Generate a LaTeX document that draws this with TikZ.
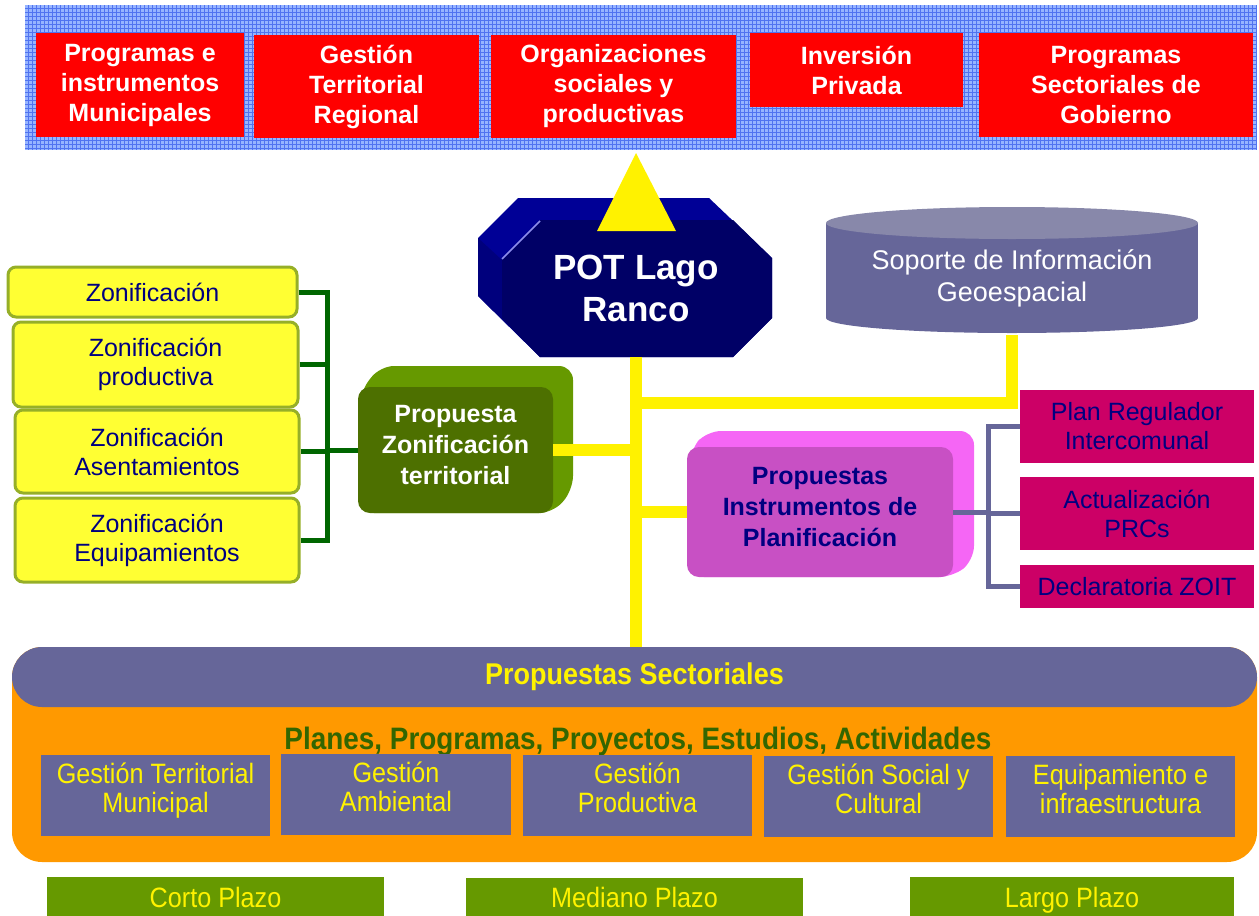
\documentclass[tikz,border=0pt]{standalone}
\usepackage{fontspec}
\setmainfont{Liberation Sans}
\newfontfamily\narrowsf[FakeStretch=0.9]{Liberation Sans}
\usetikzlibrary{calc}

\definecolor{barfill}{RGB}{150,180,255}
\definecolor{barline}{RGB}{80,115,240}
\definecolor{potfront}{RGB}{0,0,102}
\definecolor{potback}{RGB}{0,0,150}
\definecolor{potside}{RGB}{0,0,125}
\definecolor{pothigh}{RGB}{140,140,235}
\definecolor{cylside}{RGB}{102,102,153}
\definecolor{cyltop}{RGB}{136,136,170}
\definecolor{zonfront}{RGB}{77,112,0}
\definecolor{zonback}{RGB}{102,153,0}
\definecolor{planfront}{RGB}{200,80,196}
\definecolor{planback}{RGB}{245,102,245}
\definecolor{navytext}{RGB}{0,0,128}
\definecolor{instfill}{RGB}{204,0,102}
\definecolor{itemfill}{RGB}{255,255,51}
\definecolor{itemedge}{RGB}{150,175,40}
\definecolor{busgreen}{RGB}{0,102,0}
\definecolor{busgrey}{RGB}{102,102,153}
\definecolor{sectorange}{RGB}{255,153,0}
\definecolor{sectband}{RGB}{102,102,153}
\definecolor{ppptext}{RGB}{51,102,0}
\definecolor{plazofill}{RGB}{102,153,0}

\tikzset{
  topbox/.style={fill=red, text=white, inner sep=0pt, align=center, font=\bfseries\fontsize{25}{30}\selectfont},
  cubeface/.style={rounded corners=12, inner sep=0pt, align=center, text depth=11pt, font=\bfseries\fontsize{25}{31}\selectfont},
  zonitem/.style={draw=itemedge, line width=3pt, fill=itemfill, rounded corners=8pt, inner sep=0pt, align=center, text=navytext, font=\fontsize{25}{29}\selectfont},
  instbox/.style={fill=instfill, inner sep=0pt, align=center, text=navytext, font=\fontsize{25}{29}\selectfont},
  sectbox/.style={fill=sectband, inner sep=0pt, align=center, text=yellow, minimum width=229, minimum height=81, text depth=15pt, font=\narrowsf\fontsize{28}{29}\selectfont},
  plazobox/.style={fill=plazofill, inner sep=0pt, text=yellow, minimum height=39, text height=22pt, text depth=1pt, font=\narrowsf\fontsize{28}{30}\selectfont},
  greenbus/.style={draw=busgreen, line width=5pt},
  greybus/.style={draw=busgrey, line width=5pt},
  yellowbus/.style={draw=yellow, line width=12pt}
}

\begin{document}
\begin{tikzpicture}[x=1pt,y=1pt,yscale=-1]
    \useasboundingbox (0,0) rectangle (1259,916);

    %Shape: Rectangle [top bar]
    \fill[barfill] (25,5) rectangle (1257,150);
    \draw[barline, line width=0.6pt, step=4] (25,5) grid (1257,150);

    % Text Node
    \node[topbox, minimum width=208, minimum height=104] (muni) at (140,85) {Programas e\\instrumentos\\Municipales};
    % Text Node
    \node[topbox, minimum width=225, minimum height=103] (regi) at (366.5,86.5) {Gestión\\Territorial\\Regional};
    % Text Node
    \node[topbox, minimum width=245, minimum height=103] (orga) at (613.5,86.5) {Organizaciones\\sociales y\\productivas};
    % Text Node
    \node[topbox, minimum width=213, minimum height=74] (priv) at (856.5,70) {Inversión\\Privada};
    % Text Node
    \node[topbox, minimum width=274, minimum height=104] (gobi) at (1116,85) {Programas\\Sectoriales de\\Gobierno};

    %Shape: Octagon [POT]
    \fill[potback] (518,198) -- (709,198) -- (772,258) -- (772,318) -- (733,357) -- (540,357) -- (478,296) -- (478,238) -- cycle;
    \fill[potside] (478,238) -- (502,260) -- (502,318) -- (540,357) -- (478,296) -- cycle;
    \fill[potfront] (540,220) -- (733,220) -- (772,258) -- (772,318) -- (733,357) -- (540,357) -- (502,318) -- (502,260) -- cycle;
    \draw[pothigh, line width=1.5pt] (502,259) -- (540,221);
    % Text Node
    \node[inner sep=0pt, minimum width=270, minimum height=137, align=center, text=white, font=\bfseries\fontsize{35}{42}\selectfont] (pot) at (636,288.5) {POT Lago\\Ranco};
    %Shape: Triangle
    \fill[yellow] (597,231) -- (636,153) -- (676,231) -- cycle;

    %Shape: Can
    \fill[cylside] (826,223) rectangle (1198,318);
    \fill[cylside] (1012,318) ellipse [x radius=186, y radius=15];
    \fill[cyltop] (1012,223) ellipse [x radius=186, y radius=16];
    % Text Node
    \node[inner sep=0pt, minimum width=372, minimum height=114, align=center, text=white, font=\fontsize{27}{32}\selectfont] (geo) at (1012,278) {Soporte de Información\\Geoespacial};

    %Shape: Cube [zonificacion]
    \fill[zonback, rounded corners=14] (360,392) -- (380,366) -- (573,366) -- (573,490) -- (553,513) -- (360,513) -- cycle;
    \node[cubeface, fill=zonfront, text=white, minimum width=195, minimum height=126] (zon) at (455.5,450) {Propuesta\\Zonificación\\territorial};

    %Shape: Cube [instrumentos]
    \fill[planback, rounded corners=14] (690,450) -- (707,431) -- (974,431) -- (974,560) -- (953,577) -- (690,577) -- cycle;
    \node[cubeface, fill=planfront, text=navytext, minimum width=266, minimum height=130] (plan) at (820,512) {Propuestas\\Instrumentos de\\Planificación};

    % Text Node
    \node[instbox, minimum width=234, minimum height=73] (preg) at (1137,426.5) {Plan Regulador\\Intercomunal};
    \node[instbox, minimum width=234, minimum height=73] (prcs) at (1137,513.5) {Actualización\\PRCs};
    \node[instbox, minimum width=234, minimum height=43] (zoit) at (1137,586.5) {Declaratoria ZOIT};

    % Text Node
    \node[zonitem, minimum width=289, minimum height=50] (zgen) at (152.5,292) {Zonificación};
    \node[zonitem, minimum width=285, minimum height=85] (zpro) at (155.5,364.5) {Zonificación\\productiva};
    \node[zonitem, minimum width=284, minimum height=83] (zase) at (157,451.5) {Zonificación\\Asentamientos};
    \node[zonitem, minimum width=284, minimum height=84] (zequ) at (157,540) {Zonificación\\Equipamientos};

    %Shape: Rounded Rect [sectoriales]
    \fill[sectorange, rounded corners=30] (12,647) rectangle (1257,862);
    \node[fill=sectband, rounded corners=30, inner sep=0pt, minimum width=1245, minimum height=60, text=yellow, font=\narrowsf\bfseries\fontsize{30}{36}\selectfont] (sect) at (634.5,677) {Propuestas Sectoriales};
    \node[inner sep=0pt, text=ppptext, font=\narrowsf\bfseries\fontsize{31}{36}\selectfont] (ppp) at (638,742) {Planes, Programas, Proyectos, Estudios, Actividades};
    \node[sectbox] (gter) at (155.5,795.5) {Gestión Territorial\\Municipal};
    \node[sectbox, minimum width=230] (gamb) at (396,794.5) {Gestión\\Ambiental};
    \node[sectbox] (gpro) at (637.5,795.5) {Gestión\\Productiva};
    \node[sectbox] (gsoc) at (878.5,796.5) {Gestión Social y\\Cultural};
    \node[sectbox] (gequ) at (1120.5,796.5) {Equipamiento e\\infraestructura};

    % Text Node
    \node[plazobox, minimum width=337] (corto) at (215.5,896.5) {Corto Plazo};
    \node[plazobox, minimum width=337] (medio) at (634.5,897) {Mediano Plazo};
    \node[plazobox, minimum width=324] (largo) at (1072,896.5) {Largo Plazo};

    %Straight Lines
    \coordinate (gbus) at (327,450);
    \draw[greenbus] (zgen.east) -| (gbus);
    \draw[greenbus] (zequ.east) -| (gbus);
    \draw[greenbus] (zpro.east) -- (zpro.east -| gbus);
    \draw[greenbus] (zase.east) -- (zase.east -| gbus);
    \draw[greenbus] (gbus) -- (zon.west);

    \coordinate (pbus) at (988,512);
    \draw[greybus] (preg.west) -| (pbus);
    \draw[greybus] (zoit.west) -| (pbus);
    \draw[greybus] (prcs.west) -- (prcs.west -| pbus);
    \draw[greybus] (plan.east) -- (pbus);

    \coordinate (ytop) at (636,403);
    \coordinate (yzon) at (636,450);
    \coordinate (yplan) at (636,512);
    \draw[yellowbus] (pot.south) -- (pot.south |- sect.north);
    \draw[yellowbus] (ytop) -| (geo.south);
    \draw[yellowbus] (zon.east) -- (yzon);
    \draw[yellowbus] (yplan) -- (plan.west);

\end{tikzpicture}
\end{document}
